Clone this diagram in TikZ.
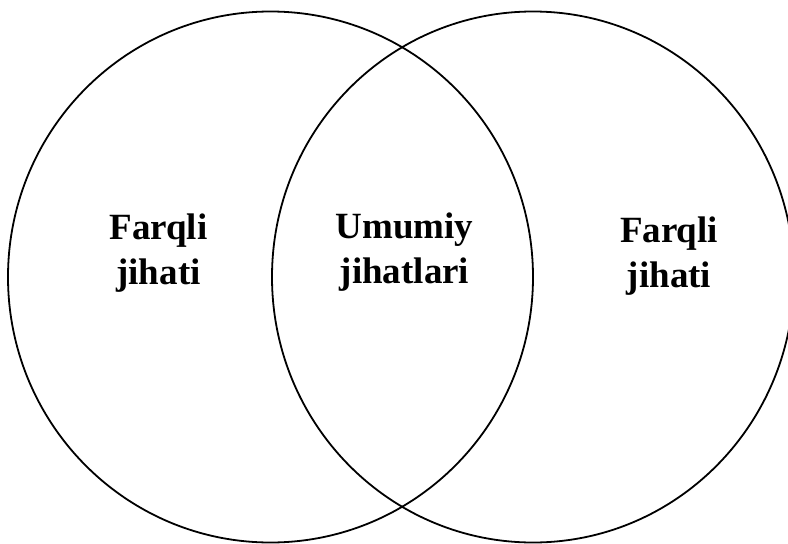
\documentclass[tikz,border=0pt]{standalone}
\usepackage{fontspec}
\setmainfont{Liberation Serif}
\begin{document}
\begin{tikzpicture}[x=1pt,y=-1pt,
  venn/.style={draw=black,line width=1.8pt},
  lbl/.style={anchor=base,inner sep=0pt,font=\fontsize{37}{45}\selectfont\bfseries}]
\useasboundingbox (0,0) rectangle (788,544);
\clip (0,0) rectangle (788,544);
\draw[venn] (270.5,277) ellipse [x radius=262.5, y radius=265.5];
\draw[venn] (533,277) ellipse [x radius=261, y radius=265.5];
\node[lbl] (la) at (158.5,239) {Farqli};
\node[lbl] (lb) at (158.5,284) {jihati};
\node[lbl] (ma) at (404.5,238) {Umumiy};
\node[lbl] (mb) at (404.5,283) {jihatlari};
\node[lbl] (ra) at (669,242) {Farqli};
\node[lbl] (rb) at (669,287) {jihati};
\end{tikzpicture}
\end{document}
